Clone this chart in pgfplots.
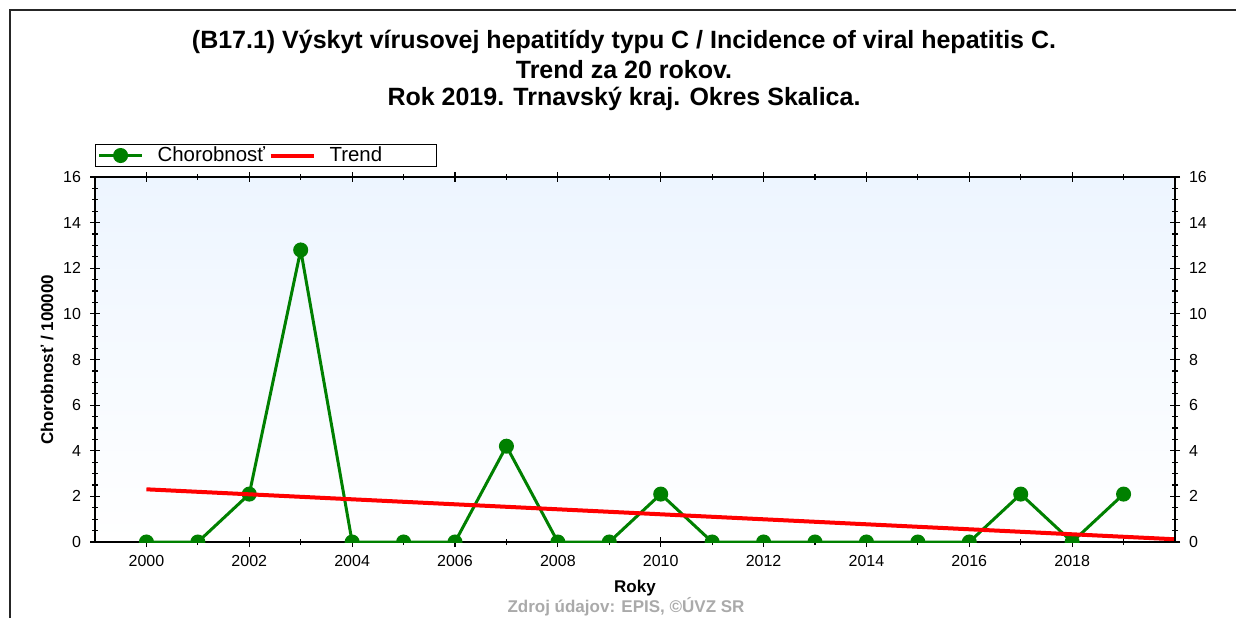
\documentclass[border=0pt]{standalone}
\usepackage{fontspec}
\setmainfont{Liberation Sans}
\usepackage{pgfplots}
\pgfplotsset{compat=1.18}
\definecolor{ggreen}{RGB}{0,128,0}
\definecolor{bgblue}{RGB}{237,245,255}
\definecolor{footgray}{RGB}{170,170,170}
\begin{document}
\begin{tikzpicture}
\path[use as bounding box] (0,0) rectangle (618pt,309pt);
\draw[line width=1pt, black!85] (5pt,0pt) -- (5pt,304pt) -- (618pt,304pt);
\node[font=\fontsize{12.5}{14}\selectfont\bfseries] at (312pt,288pt) {(B17.1) Výskyt vírusovej hepatitídy typu C / Incidence of viral hepatitis C.};
\node[font=\fontsize{12.5}{14}\selectfont\bfseries] at (312pt,274pt) {Trend za 20 rokov.};
\node[font=\fontsize{12.5}{14}\selectfont\bfseries] at (312pt,259.5pt) {Rok 2019. Trnavský kraj. Okres Skalica.};
\node[font=\fontsize{8.5}{10}\selectfont\bfseries, text=footgray, inner sep=0pt, anchor=south] at (313pt,1pt) {Zdroj údajov: EPIS, ©ÚVZ SR};
\begin{axis}[
  at={(47.5pt,38pt)}, anchor=south west,
  scale only axis, width=540pt, height=182.5pt,
  xmin=1999, xmax=2020, ymin=0, ymax=16,
  xtick={2000,2002,...,2018},
  minor xtick={2001,2003,...,2019},
  ytick={0,2,...,16},
  minor y tick num=3,
  tick align=center,
  major tick length=5pt, minor tick length=3pt,
  tick style={black, line width=0.6pt},
  axis line style={black, line width=0.8pt},
  xticklabel style={/pgf/number format/1000 sep={}, font=\fontsize{8}{10}\selectfont, yshift=-0.5pt},
  yticklabel style={font=\fontsize{8}{10}\selectfont, xshift=-1pt},
  /pgf/number format/assume math mode=true,
  ytick pos=left,
  xlabel={Roky}, ylabel={Chorobnosť / 100000},
  xlabel style={font=\fontsize{8.5}{10}\selectfont\bfseries, yshift=0pt},
  ylabel style={font=\fontsize{8.5}{10}\selectfont\bfseries, yshift=-2pt},
  axis background/.style={top color=bgblue, bottom color=white},
  clip marker paths=true,
  legend columns=2,
  legend style={at={(0,1)}, anchor=south west, yshift=5pt, draw=black, line width=0.6pt,
    font=\fontsize{10.2}{11}\selectfont, inner xsep=1pt, inner ysep=0pt,
    nodes={text width=49pt, inner xsep=3.5pt, inner ysep=1pt},
    /tikz/every even column/.append style={column sep=3pt}},
  legend image code/.code={\draw[mark repeat=2, mark phase=2, #1] plot coordinates {(0pt,0pt) (10.75pt,0pt) (21.5pt,0pt)}; \path (25pt,0pt);},
]
\addplot[ggreen, line width=1.5pt, mark=*, mark size=3pt, mark options={solid, fill=ggreen}] coordinates {
(2000,0) (2001,0) (2002,2.1) (2003,12.8) (2004,0) (2005,0) (2006,0) (2007,4.2) (2008,0) (2009,0)
(2010,2.1) (2011,0) (2012,0) (2013,0) (2014,0) (2015,0) (2016,0) (2017,2.1) (2018,0) (2019,2.1)
};
\addlegendentry{Chorobnosť}
\addplot[red, line width=2pt, no marks] coordinates {(2000,2.31) (2020,0.12)};
\addlegendentry{Trend}
\end{axis}
\begin{axis}[
  at={(47.5pt,38pt)}, anchor=south west,
  scale only axis, width=540pt, height=182.5pt,
  xmin=1999, xmax=2020, ymin=0, ymax=16,
  axis x line=none, axis y line*=right,
  ytick={0,2,...,16}, minor y tick num=3,
  tick align=center,
  major tick length=5pt, minor tick length=3pt,
  tick style={black, line width=0.6pt},
  axis line style={black, line width=0.8pt},
  yticklabel style={font=\fontsize{8}{10}\selectfont, xshift=1pt},
  /pgf/number format/assume math mode=true,
]
\end{axis}
\end{tikzpicture}
\end{document}
